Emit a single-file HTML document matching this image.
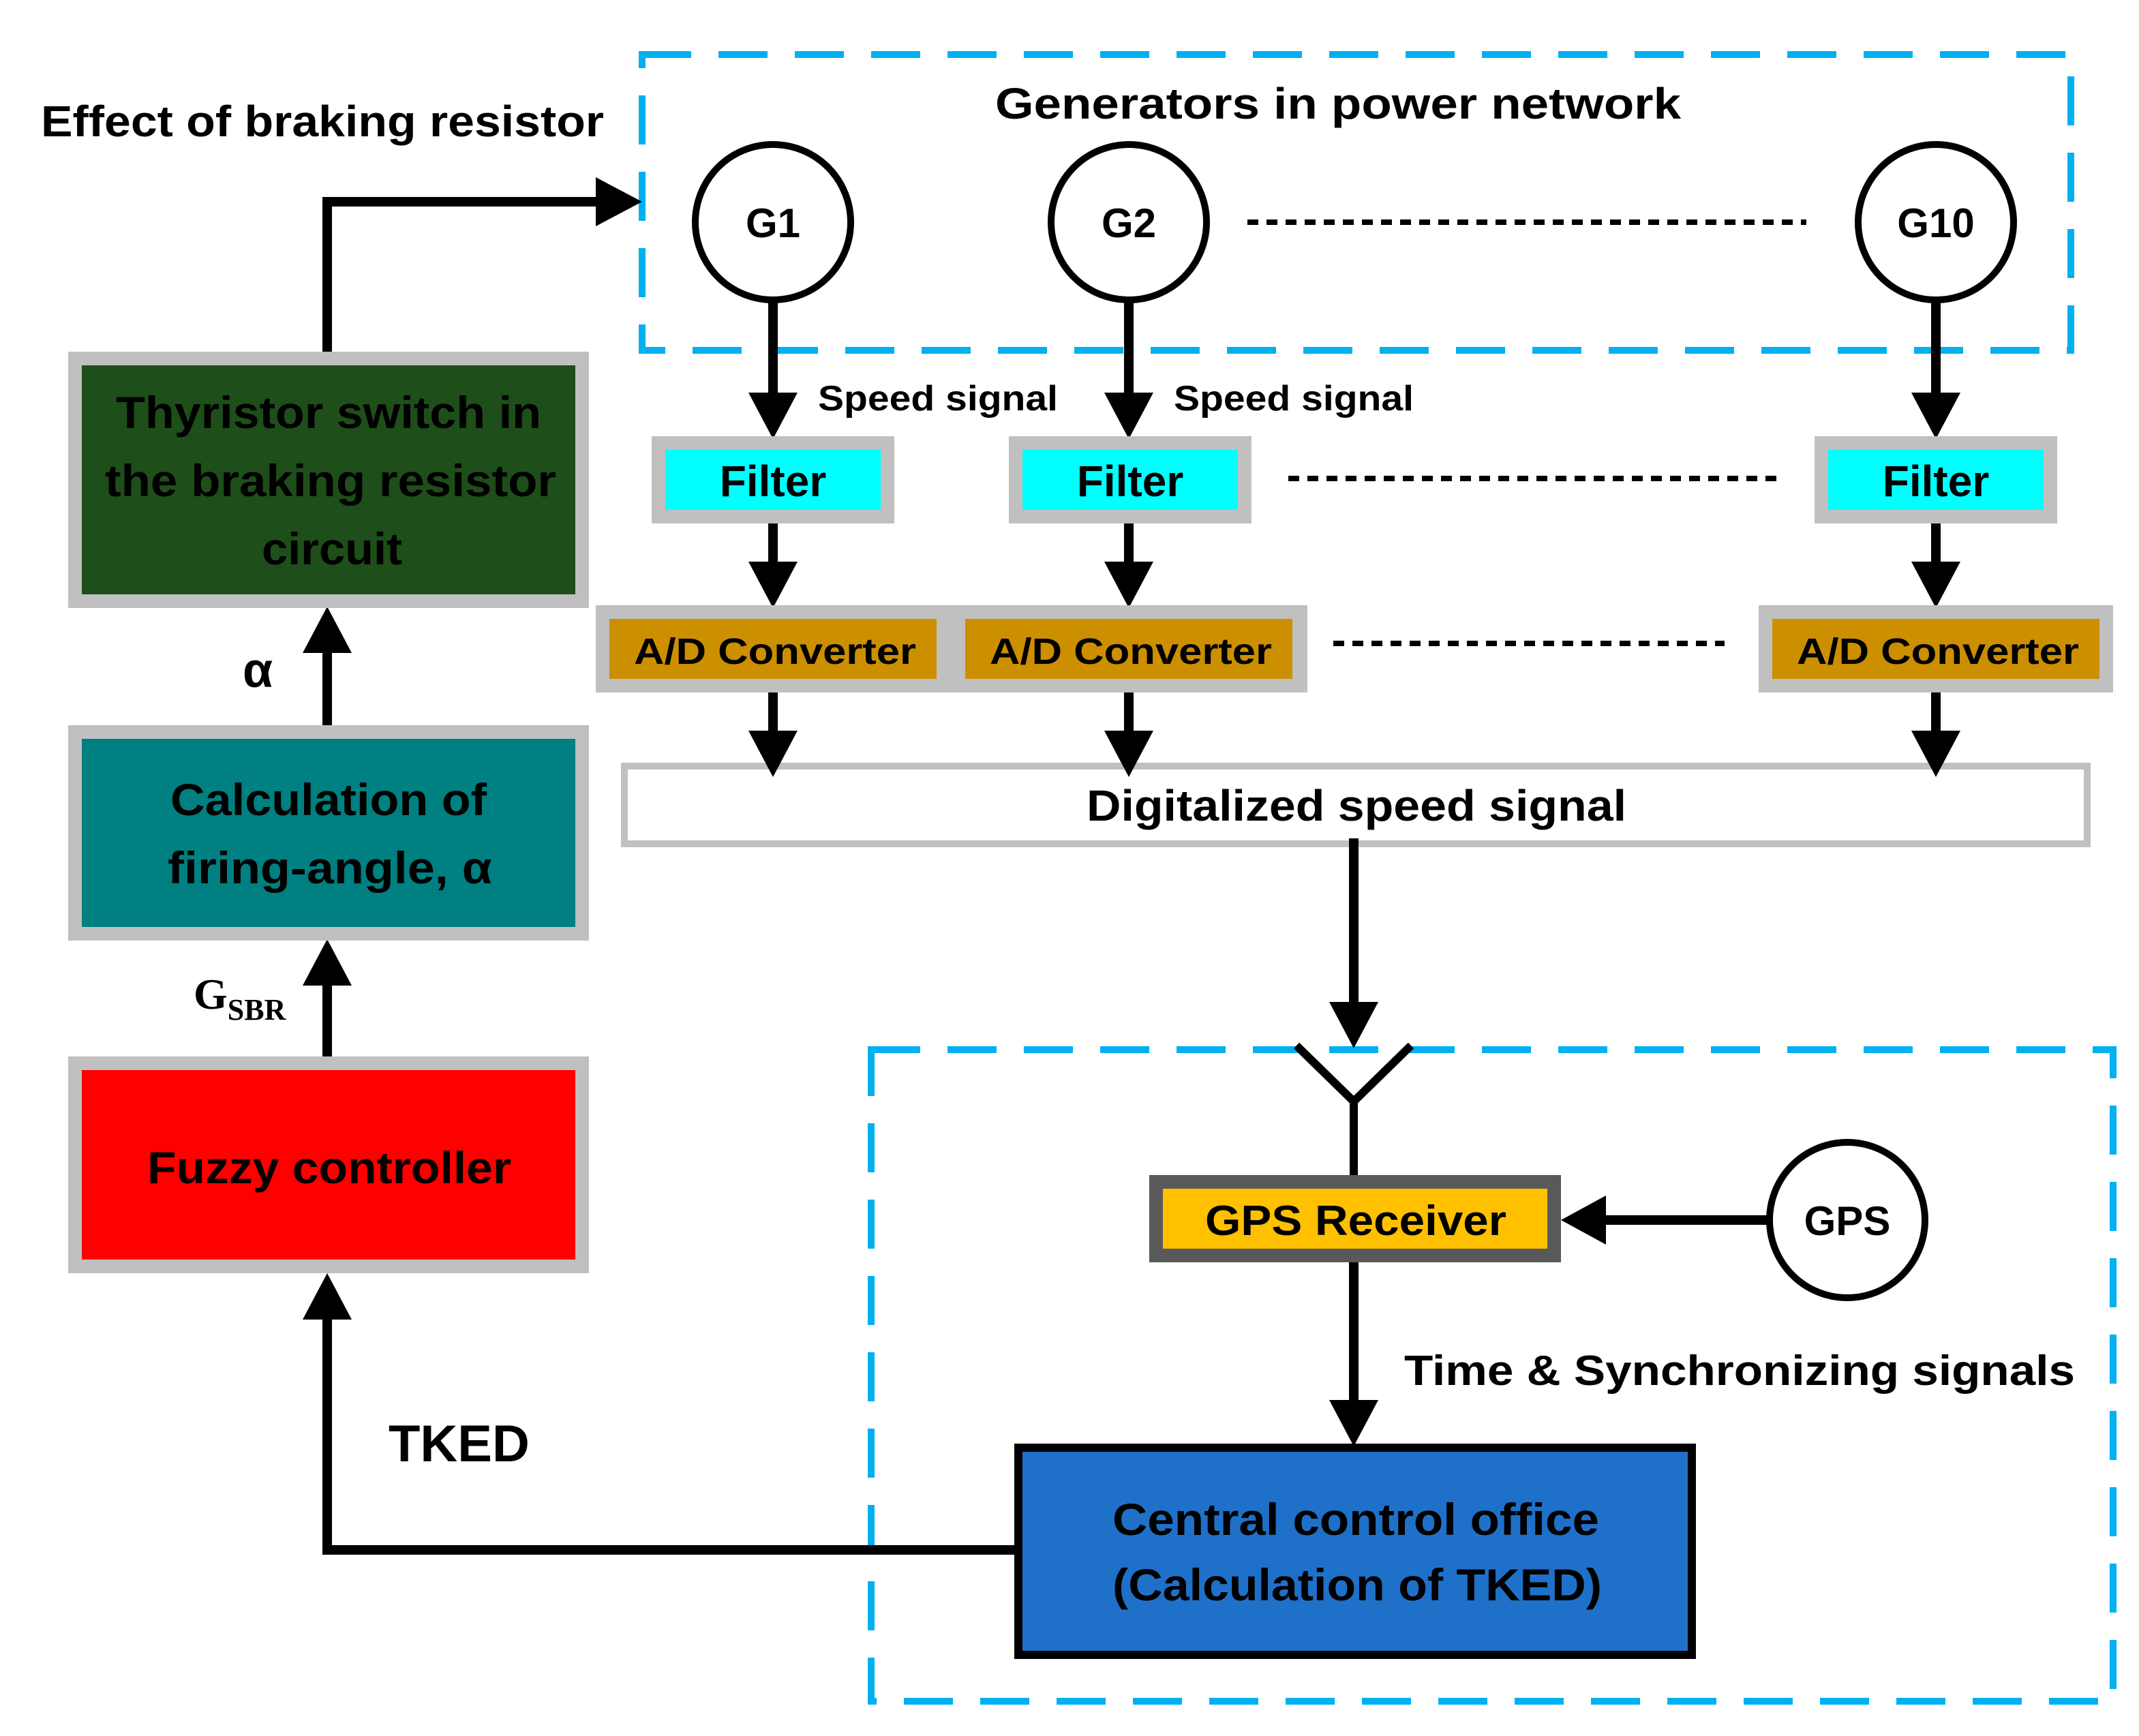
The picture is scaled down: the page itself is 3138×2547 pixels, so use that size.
<!DOCTYPE html>
<html><head><meta charset="utf-8"><style>
html,body{margin:0;padding:0;background:#fff;width:3138px;height:2547px;overflow:hidden}
svg{display:block}
text{font-family:"Liberation Sans",sans-serif;font-weight:bold;fill:#000}
</style></head><body>
<svg width="3138" height="2547" viewBox="0 0 1569 1273.5" xmlns="http://www.w3.org/2000/svg">
<!-- dashed regions -->
<rect x="471" y="40" width="1048" height="217" fill="none" stroke="#00b0f0" stroke-width="5" stroke-dasharray="36,20"/>
<rect x="639" y="770" width="911" height="478" fill="none" stroke="#00b0f0" stroke-width="5" stroke-dasharray="36,20"/>

<text x="730" y="87" font-size="32" textLength="503" lengthAdjust="spacingAndGlyphs">Generators in power network</text>
<text x="30" y="100" font-size="32" textLength="413" lengthAdjust="spacingAndGlyphs">Effect of braking resistor</text>

<rect x="458" y="562" width="1073" height="57" fill="#fff" stroke="#c0c0c0" stroke-width="5"/>
<text x="797" y="602" font-size="32" textLength="396" lengthAdjust="spacingAndGlyphs">Digitalized speed signal</text>

<!-- generators -->
<g stroke="#000" stroke-width="5" fill="#fff">
<circle cx="567" cy="163" r="57"/><circle cx="828" cy="163" r="57"/><circle cx="1420" cy="163" r="57"/>
<circle cx="1355" cy="895" r="57"/>
</g>
<g font-size="30" text-anchor="middle">
<text x="567" y="174">G1</text><text x="828" y="174">G2</text><text x="1420" y="174">G10</text>
<text x="1355" y="906">GPS</text>
</g>
<g stroke="#000" stroke-width="4" stroke-dasharray="8,6">
<line x1="915" y1="163" x2="1325" y2="163"/>
<line x1="945" y1="351" x2="1305" y2="351"/>
<line x1="978" y1="472" x2="1265" y2="472"/>
</g>

<!-- vertical arrows -->
<g stroke="#000" stroke-width="7">
<line x1="567" y1="220" x2="567" y2="290"/><line x1="828" y1="220" x2="828" y2="290"/><line x1="1420" y1="220" x2="1420" y2="290"/>
<line x1="567" y1="384" x2="567" y2="416"/><line x1="828" y1="384" x2="828" y2="416"/><line x1="1420" y1="384" x2="1420" y2="416"/>
<line x1="567" y1="500" x2="567" y2="538"/><line x1="828" y1="500" x2="828" y2="538"/><line x1="1420" y1="500" x2="1420" y2="538"/>
<line x1="993" y1="615" x2="993" y2="738"/>
<line x1="993" y1="926" x2="993" y2="1030"/>
<line x1="1297" y1="895" x2="1175" y2="895"/>
<polyline fill="none" points="747,1137 240,1137 240,965"/>
<line x1="240" y1="775" x2="240" y2="720"/>
<line x1="240" y1="532" x2="240" y2="476"/>
<polyline fill="none" points="240,265 240,148 440,148"/>
</g>
<g fill="#000">
<polygon points="549,288 585,288 567,322"/><polygon points="810,288 846,288 828,322"/><polygon points="1402,288 1438,288 1420,322"/>
<polygon points="549,412 585,412 567,446"/><polygon points="810,412 846,412 828,446"/><polygon points="1402,412 1438,412 1420,446"/>
<polygon points="549,536 585,536 567,570"/><polygon points="810,536 846,536 828,570"/><polygon points="1402,536 1438,536 1420,570"/>
<polygon points="975,735 1011,735 993,769"/>
<polygon points="975,1027 1011,1027 993,1061"/>
<polygon points="1178,877 1178,913 1145,895"/>
<polygon points="222,968 258,968 240,934"/>
<polygon points="222,723 258,723 240,689"/>
<polygon points="222,479 258,479 240,445"/>
<polygon points="437,130 437,166 471,148"/>
</g>
<!-- antenna -->
<polyline points="951,767 993,808 1035,767" fill="none" stroke="#000" stroke-width="6"/>
<line x1="993" y1="806" x2="993" y2="864" stroke="#000" stroke-width="6"/>

<g font-size="26"><text x="600" y="301" textLength="176" lengthAdjust="spacingAndGlyphs">Speed signal</text><text x="861" y="301" textLength="176" lengthAdjust="spacingAndGlyphs">Speed signal</text></g>

<!-- filters -->
<g fill="#c0c0c0">
<rect x="478" y="320" width="178" height="64"/><rect x="740" y="320" width="178" height="64"/><rect x="1331" y="320" width="178" height="64"/>
<rect x="437" y="444" width="522" height="64"/><rect x="1290" y="444" width="260" height="64"/>
</g>
<g fill="#00ffff">
<rect x="488" y="330" width="158" height="44"/><rect x="750" y="330" width="158" height="44"/><rect x="1341" y="330" width="158" height="44"/>
</g>
<g fill="#cc8f00">
<rect x="447" y="454" width="240" height="44"/><rect x="708" y="454" width="240" height="44"/><rect x="1300" y="454" width="240" height="44"/>
</g>
<g font-size="32" text-anchor="middle"><text x="567" y="364">Filter</text><text x="829" y="364">Filter</text><text x="1420" y="364">Filter</text></g>
<g font-size="27" lengthAdjust="spacingAndGlyphs"><text x="465" y="487" textLength="207" lengthAdjust="spacingAndGlyphs">A/D Converter</text><text x="726" y="487" textLength="207" lengthAdjust="spacingAndGlyphs">A/D Converter</text><text x="1318" y="487" textLength="207" lengthAdjust="spacingAndGlyphs">A/D Converter</text></g>

<!-- GPS receiver -->
<rect x="843" y="862" width="302" height="64" fill="#595959"/>
<rect x="853" y="872" width="282" height="44" fill="#ffc000"/>
<text x="884" y="906" font-size="31" textLength="221" lengthAdjust="spacingAndGlyphs">GPS Receiver</text>
<text x="1030" y="1016" font-size="31" textLength="492" lengthAdjust="spacingAndGlyphs">Time &amp; Synchronizing signals</text>

<rect x="747" y="1062" width="494" height="152" fill="#1f70c8" stroke="#000" stroke-width="6"/>
<text x="816" y="1126" font-size="33" textLength="357" lengthAdjust="spacingAndGlyphs">Central control office</text>
<text x="816" y="1174" font-size="33" textLength="359" lengthAdjust="spacingAndGlyphs">(Calculation of TKED)</text>
<text x="285" y="1072" font-size="38">TKED</text>

<!-- left column -->
<rect x="50" y="775" width="382" height="159" fill="#c0c0c0"/><rect x="60" y="785" width="362" height="139" fill="#ff0000"/>
<text x="108" y="868" font-size="33" textLength="267" lengthAdjust="spacingAndGlyphs">Fuzzy controller</text>
<text x="142" y="740" font-size="32" style="font-family:'Liberation Serif',serif">G<tspan font-size="22" dy="8">SBR</tspan></text>
<rect x="50" y="532" width="382" height="158" fill="#c0c0c0"/><rect x="60" y="542" width="362" height="138" fill="#008080"/>
<text x="125" y="598" font-size="33" textLength="232" lengthAdjust="spacingAndGlyphs">Calculation of</text>
<text x="123" y="648" font-size="33" textLength="238" lengthAdjust="spacingAndGlyphs">firing-angle, α</text>
<text x="178" y="504" font-size="36">α</text>
<rect x="50" y="258" width="382" height="188" fill="#c0c0c0"/><rect x="60" y="268" width="362" height="168" fill="#1e4e19"/>
<text x="85" y="314" font-size="33" textLength="312" lengthAdjust="spacingAndGlyphs">Thyristor switch in</text>
<text x="77" y="364" font-size="33" textLength="331" lengthAdjust="spacingAndGlyphs">the braking resistor</text>
<text x="192" y="414" font-size="33" textLength="103" lengthAdjust="spacingAndGlyphs">circuit</text>
</svg>
</body></html>
